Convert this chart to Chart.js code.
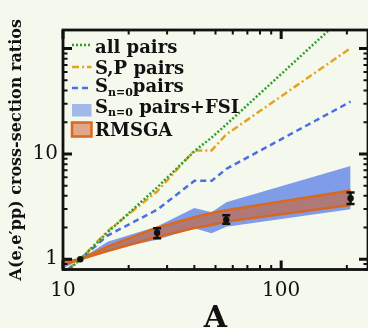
<!DOCTYPE html>
<html>
<head>
<meta charset="utf-8">
<script src="https://cdn.jsdelivr.net/npm/chart.js@4.4.1/dist/chart.umd.min.js"></script>
<style>
  html, body { margin: 0; padding: 0; width: 368px; height: 328px; overflow: hidden; background: #f5f8ec; }
  canvas { display: block; }
</style>
</head>
<body>
<canvas id="chart" width="372" height="340"></canvas>
<script>
// Mass numbers of the nuclei used in the calculations
const massNumbers = [9, 12, 16, 27, 40, 48, 56, 208];

// Ratios relative to carbon
const allPairs   = [0.58, 1, 1.8, 4.8, 10.6, 14.3, 19, 231];
const spPairs    = [0.6, 1, 1.85, 4.4, 10.8, 10.8, 15.3, 101];
const s0Pairs    = [0.62, 1, 1.68, 2.95, 5.55, 5.55, 7.2, 31.3];
const fsiUpper   = [0.85, 1, 1.47, 2.05, 3.07, 2.8, 3.47, 7.7];
const fsiLower   = [0.72, 1, 1.22, 1.53, 1.97, 1.77, 2.04, 2.98];
const rmsgaUpper = [0.92, 1, 1.32, 2.0, 2.51, 2.75, 2.92, 4.5];
const rmsgaLower = [0.82, 1, 1.2, 1.63, 1.98, 2.12, 2.28, 3.28];

// Measured ratios with their uncertainty range
const dataA       = [12, 27, 56, 208];
const dataRatio   = [1, 1.79, 2.37, 3.8];
const dataErrLow  = [1, 1.58, 2.17, 3.34];
const dataErrHigh = [1, 1.97, 2.62, 4.31];

// Labelled ticks
const xTickLabels = [10, 100];
const yTickLabels = [1, 10];

const GREEN = '#2e9f2e';
const GOLD = '#e3a424';
const BLUE = '#4a6fe3';
const ORANGE = '#d9691e';
const INK = '#111111';
const SERIF = '"DejaVu Serif", "Liberation Serif", serif';

const pts = ys => massNumbers.map((a, i) => ({ x: a, y: ys[i] }));

// Decade-based tick values inside a range
function logTickValues(min, max) {
  const out = [];
  for (let k = -2; k <= 3; k++) {
    for (let m = 1; m <= 9; m++) {
      const v = m * Math.pow(10, k);
      if (v >= min * 0.999 && v <= max * 1.001) out.push({ v, major: m === 1 });
    }
  }
  return out;
}

const backgroundPlugin = {
  id: 'paper',
  beforeDraw(chart) {
    const ctx = chart.ctx;
    ctx.save();
    ctx.fillStyle = '#f5f8ec';
    ctx.fillRect(0, 0, chart.width, chart.height);
    ctx.restore();
  }
};

const errorBarPlugin = {
  id: 'errorBars',
  afterDatasetsDraw(chart) {
    const { ctx, scales: { x, y } } = chart;
    ctx.save();
    ctx.strokeStyle = INK;
    ctx.lineWidth = 2.5;
    ctx.lineCap = 'butt';
    dataA.forEach((a, i) => {
      if (dataErrHigh[i] <= dataErrLow[i]) return;
      const px = x.getPixelForValue(a);
      const top = y.getPixelForValue(dataErrHigh[i]);
      const bot = y.getPixelForValue(dataErrLow[i]);
      ctx.beginPath();
      ctx.moveTo(px, top); ctx.lineTo(px, bot);
      ctx.moveTo(px - 4, top); ctx.lineTo(px + 4, top);
      ctx.moveTo(px - 4, bot); ctx.lineTo(px + 4, bot);
      ctx.stroke();
    });
    ctx.restore();
  }
};

const framePlugin = {
  id: 'frame',
  afterDraw(chart) {
    const { ctx, chartArea: ca, scales: { x, y } } = chart;
    ctx.save();
    ctx.strokeStyle = INK;
    // tick marks pointing inwards on all four sides
    logTickValues(x.min, x.max).forEach(t => {
      const px = x.getPixelForValue(t.v);
      const len = t.major ? 9 : 4.5;
      ctx.lineWidth = t.major ? 3 : 2;
      ctx.beginPath();
      ctx.moveTo(px, ca.bottom); ctx.lineTo(px, ca.bottom - len);
      ctx.moveTo(px, ca.top); ctx.lineTo(px, ca.top + len);
      ctx.stroke();
    });
    logTickValues(y.min, y.max).forEach(t => {
      const py = y.getPixelForValue(t.v);
      const len = t.major ? 9 : 4.5;
      ctx.lineWidth = t.major ? 3 : 2;
      ctx.beginPath();
      ctx.moveTo(ca.left, py); ctx.lineTo(ca.left + len, py);
      ctx.moveTo(ca.right, py); ctx.lineTo(ca.right - len, py);
      ctx.stroke();
    });
    ctx.lineWidth = 2.8;
    ctx.strokeRect(ca.left, ca.top, ca.right - ca.left, ca.bottom - ca.top);
    ctx.restore();
  }
};

// Legend entries: sample style plus text pieces ([text, isSubscript])
const legendEntries = [
  { kind: 'line', color: GREEN, dash: [2, 2], cy: 45, base: 52.5, text: [['all pairs', false]] },
  { kind: 'line', color: GOLD, dash: [7, 3, 2, 3], cy: 67, base: 74, text: [['S,P pairs', false]] },
  { kind: 'line', color: BLUE, dash: [6, 4], cy: 88, base: 92, text: [['S', false], ['n=0', true], ['pairs', false]] },
  { kind: 'box', fill: 'rgba(80,120,228,0.5)', top: 104, h: 12.5, base: 112.7, text: [['S', false], ['n=0', true], [' pairs+FSI', false]] },
  { kind: 'box', fill: 'rgba(205,100,60,0.55)', stroke: ORANGE, top: 122.5, h: 14, base: 136, text: [['RMSGA', false]] }
];

const legendPlugin = {
  id: 'customLegend',
  afterDraw(chart) {
    const ctx = chart.ctx;
    ctx.save();
    const x0 = 72, x1 = 91.5, tx = 95;
    legendEntries.forEach(e => {
      if (e.kind === 'line') {
        ctx.strokeStyle = e.color;
        ctx.lineWidth = 2.5;
        ctx.setLineDash(e.dash);
        ctx.beginPath();
        ctx.moveTo(x0, e.cy); ctx.lineTo(x1, e.cy);
        ctx.stroke();
        ctx.setLineDash([]);
      } else {
        ctx.fillStyle = e.fill;
        ctx.fillRect(x0, e.top, x1 - x0, e.h);
        if (e.stroke) {
          ctx.strokeStyle = e.stroke;
          ctx.lineWidth = 2.5;
          ctx.strokeRect(x0, e.top, x1 - x0, e.h);
        }
      }
      let cx = tx;
      ctx.fillStyle = INK;
      ctx.textBaseline = 'alphabetic';
      ctx.textAlign = 'left';
      e.text.forEach(([s, sub]) => {
        ctx.font = sub ? 'bold 11px ' + SERIF : 'bold 18px ' + SERIF;
        ctx.fillText(s, cx, e.base + (sub ? 3.5 : 0));
        cx += ctx.measureText(s).width;
      });
    });
    ctx.restore();
  }
};

new Chart(document.getElementById('chart'), {
  type: 'line',
  data: {
    datasets: [
      { label: 'data', data: dataA.map((a, i) => ({ x: a, y: dataRatio[i] })), showLine: false,
        pointRadius: 3.2, pointBackgroundColor: INK, pointBorderColor: INK, borderWidth: 0, order: 0 },
      { label: 'all pairs', data: pts(allPairs), borderColor: GREEN, borderWidth: 2.5, borderDash: [2, 2],
        pointRadius: 0, fill: false, order: 1 },
      { label: 'S,P pairs', data: pts(spPairs), borderColor: GOLD, borderWidth: 2.5, borderDash: [7, 3, 2, 3],
        pointRadius: 0, fill: false, order: 2 },
      { label: 'Sn=0 pairs', data: pts(s0Pairs), borderColor: BLUE, borderWidth: 2.5, borderDash: [6, 4],
        pointRadius: 0, fill: false, order: 3 },
      { label: 'RMSGA upper', data: pts(rmsgaUpper), borderColor: ORANGE, borderWidth: 2.5,
        backgroundColor: 'rgba(205,100,50,0.62)', pointRadius: 0, fill: '+1', order: 4 },
      { label: 'RMSGA lower', data: pts(rmsgaLower), borderColor: ORANGE, borderWidth: 2.5,
        pointRadius: 0, fill: false, order: 5 },
      { label: 'FSI upper', data: pts(fsiUpper), borderColor: 'rgba(0,0,0,0)', borderWidth: 0,
        backgroundColor: 'rgba(80,120,228,0.72)', pointRadius: 0, fill: '+1', order: 6 },
      { label: 'FSI lower', data: pts(fsiLower), borderColor: 'rgba(0,0,0,0)', borderWidth: 0,
        pointRadius: 0, fill: false, order: 7 }
    ]
  },
  options: {
    responsive: false,
    animation: false,
    devicePixelRatio: 1,
    layout: { padding: { top: 30, right: 2, left: 0, bottom: 0 } },
    elements: { line: { tension: 0 } },
    plugins: { legend: { display: false }, tooltip: { enabled: false } },
    scales: {
      x: {
        type: 'logarithmic', min: 10, max: 250,
        grid: { display: false, drawTicks: false },
        border: { display: false },
        afterBuildTicks: s => { s.ticks = xTickLabels.map(v => ({ value: v })); },
        afterFit: s => { s.height = 70.5; },
        ticks: { autoSkip: false, maxRotation: 0, padding: 9, color: INK,
                 font: { family: SERIF, size: 20 }, callback: v => String(v) },
        title: { display: true, text: 'A', color: INK, padding: { top: 0, bottom: 3 },
                 font: { family: SERIF, size: 30, weight: 'bold' } }
      },
      y: {
        type: 'logarithmic', min: 0.8, max: 150,
        grid: { display: false, drawTicks: false },
        border: { display: false },
        afterBuildTicks: s => { s.ticks = yTickLabels.map(v => ({ value: v })); },
        afterFit: s => { s.width = 63; },
        ticks: { autoSkip: false, padding: 5, color: INK,
                 font: { family: SERIF, size: 20 }, callback: v => String(v) },
        title: { display: true, text: 'A(e,e\u2032pp) cross-section ratios', color: INK,
                 padding: { top: 7, bottom: 0 },
                 font: { family: SERIF, size: 16, weight: 'bold' } }
      }
    }
  },
  plugins: [backgroundPlugin, errorBarPlugin, framePlugin, legendPlugin]
});
</script>
</body>
</html>
